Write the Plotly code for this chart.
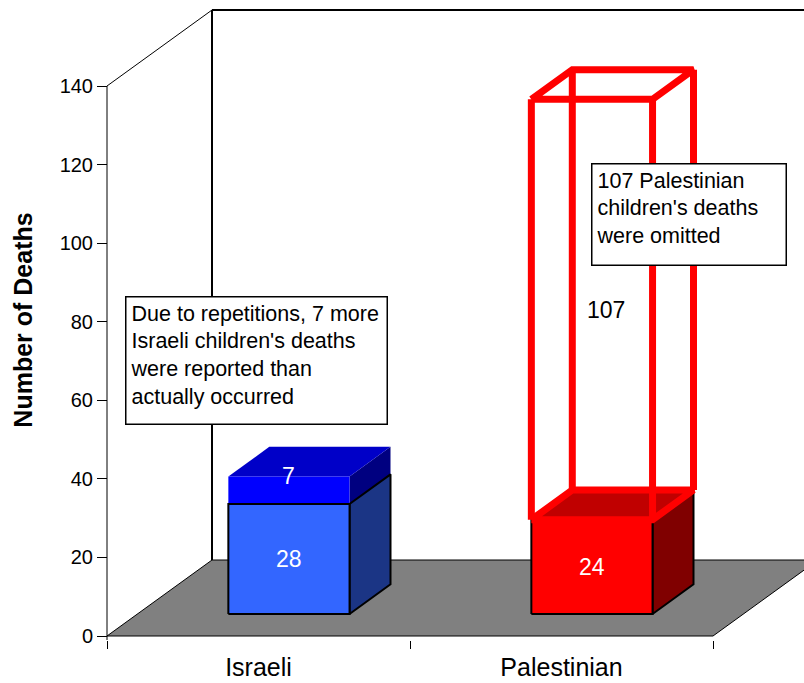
import plotly.graph_objects as go

# data
categories = ["Israeli", "Palestinian"]
reported = [28, 24]          # deaths shown as solid bars
over_reported = [7, 0]       # repeated (over-counted) deaths stacked on top
omitted = [0, 107]           # omitted deaths drawn as an empty wireframe box
y_ticks = [0, 20, 40, 60, 80, 100, 120, 140]
note_israeli = "Due to repetitions, 7 more<br>Israeli children's deaths<br>were reported than<br>actually occurred"
note_palestinian = "107 Palestinian<br>children's deaths<br>were omitted"

# pseudo-3D geometry (axis units: one category slot = 1 on x)
PPU = 550 / 140              # pixels per death on y
SLOT = 303                   # pixels per category slot
DX = 105 / SLOT              # floor depth, x part
DY = 76 / PPU                # floor depth, y part (in deaths)
FRONT = 0.29                 # bar front sits this far into the floor
DEPTH = 0.39                 # bar depth as share of floor depth
HW = 0.2                     # bar half width

fig = go.Figure()


def poly(xs, ys, fill, line_color=None, width=0):
    fig.add_trace(go.Scatter(
        x=xs + [xs[0]], y=ys + [ys[0]], mode="lines", fill="toself",
        fillcolor=fill, line=dict(color=line_color or fill, width=width),
        hoverinfo="skip", showlegend=False))


def line(xs, ys, color="black", width=1):
    fig.add_trace(go.Scatter(x=xs, y=ys, mode="lines",
                             line=dict(color=color, width=width),
                             hoverinfo="skip", showlegend=False))


def box(c, y0, y1, front, top, side, edge=None, faces=("side", "top", "front")):
    ox, oy = FRONT * DX, FRONT * DY
    dx, dy = DEPTH * DX, DEPTH * DY
    xl, xr = c - HW + ox, c + HW + ox
    b, t = y0 + oy, y1 + oy
    w = 2 if edge else 0
    if "side" in faces:
        poly([xr, xr + dx, xr + dx, xr], [b, b + dy, t + dy, t], side, edge, w)
    if "top" in faces:
        poly([xl, xr, xr + dx, xl + dx], [t, t, t + dy, t + dy], top, edge, w)
    if "front" in faces:
        poly([xl, xr, xr, xl], [b, b, t, t], front, edge, w)


def wire_box(c, y0, y1, color, width):
    ox, oy = FRONT * DX, FRONT * DY
    dx, dy = DEPTH * DX, DEPTH * DY
    xl, xr = c - HW + ox, c + HW + ox
    b, t = y0 + oy, y1 + oy
    xs, ys = [], []
    for (x, y) in [(xl, b), (xr, b), (xl + dx, b + dy), (xr + dx, b + dy)]:
        xs += [x, x, None]
        ys += [y, y + (t - b), None]
    for yy in [b, t]:
        xs += [xl, xr, xr + dx, xl + dx, xl, None]
        ys += [yy, yy, yy + dy, yy + dy, yy, None]
    line(xs, ys, color, width)


# floor and walls
poly([0, 2, 2 + DX, DX], [0, 0, DY, DY], "#808080", "black", 1)
line([0, DX], [140, 140 + DY])
line([DX, DX], [DY, 140 + DY], width=2)
line([DX, 2 + DX], [140 + DY, 140 + DY], width=2)
line([0, 0], [-4 / PPU, 140])

centers = [i + 0.5 for i in range(len(categories))]

# Israeli: over-counted segment first, then the real bar outlined on top
c = centers[0]
box(c, reported[0], reported[0] + over_reported[0], "#0000FF", "#0000C8", "#000080")
box(c, 0, reported[0], "#3366FF", "#0000C8", "#1B3585", edge="black", faces=("side", "front"))

# Palestinian: solid bar plus wireframe for the omitted deaths
c = centers[1]
box(c, 0, reported[1], "#FF0000", "#C00000", "#800000", edge="black")
wire_box(c, reported[1], reported[1] + omitted[1], "#FF0000", 7)

ox, oy = FRONT * DX, FRONT * DY
labels = [
    (centers[0] + ox, reported[0] / 2 + oy, str(reported[0]), "white"),
    # small segment: excel puts its label on the top edge
    (centers[0] + ox, reported[0] + over_reported[0] + oy, str(over_reported[0]), "white"),
    (centers[1] + ox, reported[1] / 2 + oy, str(reported[1]), "white"),
    (centers[1] + ox + DEPTH * DX / 3, reported[1] + omitted[1] / 2 + oy, str(omitted[1]), "black"),
]
for x, y, t, col in labels:
    fig.add_annotation(x=x, y=y, text=t, showarrow=False,
                       font=dict(size=23, color=col))

for x, y, t, w, h in [(0.06, 86.5, note_israeli, 252, 118),
                      (1.597, 120.3, note_palestinian, 185, 92)]:
    fig.add_annotation(x=x, y=y, text=t, showarrow=False, xanchor="left", yanchor="top",
                       align="left", valign="top", width=w, height=h,
                       bgcolor="white", bordercolor="black", borderwidth=1.5, borderpad=4,
                       font=dict(size=21.5, color="black"))

fig.update_layout(
    width=804, height=683,
    margin=dict(l=100, r=0, t=0, b=43),
    plot_bgcolor="white", paper_bgcolor="white",
    font=dict(family="Liberation Sans, Arial, sans-serif", color="black"),
    xaxis=dict(range=[-7 / SLOT, 697 / SLOT], tickvals=centers, ticktext=categories,
               ticks="", showgrid=False, zeroline=False, showline=False,
               tickfont=dict(size=25), ticklabelstandoff=10,
               minor=dict(tickvals=[0, 1, 2], ticks="outside", ticklen=8,
                          tickcolor="black", tickwidth=1, showgrid=False)),
    yaxis=dict(range=[-4 / PPU, 636 / PPU], tickvals=y_ticks, anchor="free",
               position=7 / 704, ticks="outside", ticklen=10, tickcolor="black",
               showgrid=False, zeroline=False, showline=False,
               tickfont=dict(size=20),
               title=dict(text="<b>Number of Deaths</b>", font=dict(size=25), standoff=18)),
)

# drop the page's default body margin so the figure sits at the window corner
fig.write_html("out.html", config={"displayModeBar": False},
               post_script="document.body.style.margin='0';document.body.style.overflow='hidden';")
